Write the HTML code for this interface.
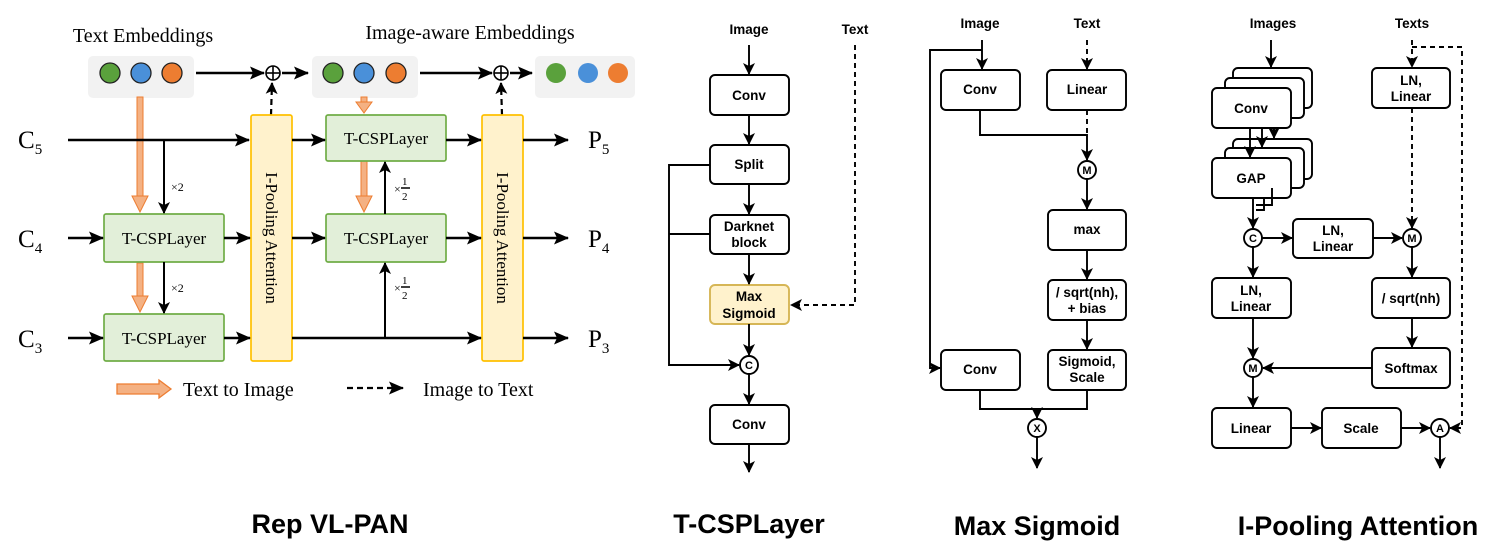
<!DOCTYPE html>
<html><head><meta charset="utf-8"><style>
html,body{margin:0;padding:0;background:#fff;}
svg{display:block;}
.s{font-family:"Liberation Serif",serif;}
.b{font-family:"Liberation Sans",sans-serif;font-weight:bold;font-size:13.5px;}
.t{font-family:"Liberation Sans",sans-serif;font-weight:bold;font-size:27px;}
</style></head><body>
<svg width="1486" height="552" viewBox="0 0 1486 552" xmlns="http://www.w3.org/2000/svg">
<defs>
<marker id="a" markerWidth="12" markerHeight="12" refX="11" refY="6" orient="auto" markerUnits="userSpaceOnUse"><path d="M0,0 L12,6 L0,12 L3,6 z" fill="#000"/></marker>
<marker id="a2" markerWidth="15" markerHeight="13" refX="14" refY="6.5" orient="auto" markerUnits="userSpaceOnUse"><path d="M0,0 L15,6.5 L0,13 L3,6.5 z" fill="#000"/></marker>
</defs>

<!-- ============ Rep VL-PAN ============ -->
<g class="s">
<text x="143" y="42" font-size="20" text-anchor="middle">Text Embeddings</text>
<text x="470" y="39" font-size="20" text-anchor="middle">Image-aware Embeddings</text>
<rect x="88" y="56" width="106" height="42" rx="5" fill="#f2f2f2"/>
<rect x="312" y="56" width="106" height="42" rx="5" fill="#f2f2f2"/>
<rect x="535" y="56" width="100" height="42" rx="5" fill="#f2f2f2"/>
<g stroke="#222" stroke-width="1.3">
<circle cx="110" cy="73" r="10" fill="#5aa13c"/><circle cx="141" cy="73" r="10" fill="#4a90d9"/><circle cx="172" cy="73" r="10" fill="#ed7d31"/>
<circle cx="333" cy="73" r="10" fill="#5aa13c"/><circle cx="364" cy="73" r="10" fill="#4a90d9"/><circle cx="396" cy="73" r="10" fill="#ed7d31"/>
</g>
<circle cx="556" cy="73" r="10" fill="#5aa13c"/><circle cx="588" cy="73" r="10" fill="#4a90d9"/><circle cx="618" cy="73" r="10" fill="#ed7d31"/>
<g stroke="#000" stroke-width="2.4" fill="none">
<line x1="196" y1="73" x2="264" y2="73" marker-end="url(#a2)"/>
<line x1="282" y1="73" x2="308" y2="73" marker-end="url(#a2)"/>
<line x1="420" y1="73" x2="492" y2="73" marker-end="url(#a2)"/>
<line x1="510" y1="73" x2="532" y2="73" marker-end="url(#a2)"/>
</g>
<g stroke="#000" stroke-width="1.6" fill="#fff">
<circle cx="273" cy="73" r="7"/><line x1="266" y1="73" x2="280" y2="73"/><line x1="273" y1="66" x2="273" y2="80"/>
<circle cx="501" cy="73" r="7"/><line x1="494" y1="73" x2="508" y2="73"/><line x1="501" y1="66" x2="501" y2="80"/>
</g>
<g stroke="#000" stroke-width="2.2" stroke-dasharray="6,4">
<line x1="271" y1="115" x2="272" y2="83" marker-end="url(#a)"/>
<line x1="502" y1="115" x2="501" y2="83" marker-end="url(#a)"/>
</g>
<g stroke="#ed7d31" fill="#f4b183" stroke-width="1">
<rect x="137" y="97" width="6" height="100"/>
<path d="M132,196 L148,196 L140,212 z"/>
<rect x="137" y="263" width="6" height="34"/>
<path d="M132,296 L148,296 L140,312 z"/>
<rect x="361" y="97" width="6" height="6"/>
<path d="M356,102 L372,102 L364,113 z"/>
<rect x="361" y="161" width="6" height="36"/>
<path d="M356,196 L372,196 L364,212 z"/>
</g>
<g fill="#e2efd9" stroke="#70ad47" stroke-width="1.7">
<rect x="104" y="214" width="120" height="48" rx="2"/>
<rect x="104" y="314" width="120" height="47" rx="2"/>
<rect x="326" y="115" width="120" height="46" rx="2"/>
<rect x="326" y="214" width="120" height="48" rx="2"/>
</g>
<g fill="#fff2cc" stroke="#ffc000" stroke-width="1.7">
<rect x="251" y="115" width="41" height="246" rx="2"/>
<rect x="482" y="115" width="41" height="246" rx="2"/>
</g>
<g font-size="17" text-anchor="middle">
<text x="164" y="244">T-CSPLayer</text>
<text x="164" y="344">T-CSPLayer</text>
<text x="386" y="144">T-CSPLayer</text>
<text x="386" y="244">T-CSPLayer</text>
<text transform="translate(266,238) rotate(90)" font-size="17">I-Pooling Attention</text>
<text transform="translate(497,238) rotate(90)" font-size="17">I-Pooling Attention</text>
</g>
<g font-size="25">
<text x="18" y="148">C<tspan font-size="15" dy="6">5</tspan></text>
<text x="18" y="247">C<tspan font-size="15" dy="6">4</tspan></text>
<text x="18" y="347">C<tspan font-size="15" dy="6">3</tspan></text>
<text x="588" y="148">P<tspan font-size="15" dy="6">5</tspan></text>
<text x="588" y="247">P<tspan font-size="15" dy="6">4</tspan></text>
<text x="588" y="347">P<tspan font-size="15" dy="6">3</tspan></text>
</g>
<g stroke="#000" stroke-width="2.4" fill="none">
<line x1="68" y1="140" x2="249" y2="140" marker-end="url(#a2)"/>
<line x1="164" y1="140" x2="164" y2="213" stroke-width="2" marker-end="url(#a)"/>
<line x1="164" y1="262" x2="164" y2="313" stroke-width="2" marker-end="url(#a)"/>
<line x1="68" y1="238" x2="103" y2="238" marker-end="url(#a2)"/>
<line x1="68" y1="338" x2="103" y2="338" marker-end="url(#a2)"/>
<line x1="224" y1="238" x2="250" y2="238" marker-end="url(#a2)"/>
<line x1="224" y1="338" x2="250" y2="338" marker-end="url(#a2)"/>
<line x1="292" y1="140" x2="325" y2="140" marker-end="url(#a2)"/>
<line x1="292" y1="238" x2="325" y2="238" marker-end="url(#a2)"/>
<line x1="292" y1="338" x2="481" y2="338" marker-end="url(#a2)"/>
<line x1="446" y1="140" x2="481" y2="140" marker-end="url(#a2)"/>
<line x1="446" y1="238" x2="481" y2="238" marker-end="url(#a2)"/>
<line x1="385" y1="214" x2="385" y2="162" stroke-width="2" marker-end="url(#a)"/>
<line x1="385" y1="338" x2="385" y2="263" stroke-width="2" marker-end="url(#a)"/>
<line x1="523" y1="140" x2="568" y2="140" marker-end="url(#a2)"/>
<line x1="523" y1="238" x2="568" y2="238" marker-end="url(#a2)"/>
<line x1="523" y1="338" x2="568" y2="338" marker-end="url(#a2)"/>
</g>
<g font-size="12">
<text x="171" y="191">×2</text><text x="171" y="292">×2</text>
<text x="394" y="193">×</text><text x="402" y="185" font-size="11">1</text><line x1="401" y1="188" x2="410" y2="188" stroke="#000" stroke-width="1.5"/><text x="402" y="200" font-size="11">2</text>
<text x="394" y="292">×</text><text x="402" y="284" font-size="11">1</text><line x1="401" y1="287" x2="410" y2="287" stroke="#000" stroke-width="1.5"/><text x="402" y="299" font-size="11">2</text>
</g>
<path d="M117,384 L159,384 L159,380 L171,389 L159,398 L159,394 L117,394 z" fill="#f4b183" stroke="#ed7d31" stroke-width="1.3"/>
<text x="183" y="396" font-size="20">Text to Image</text>
<line x1="347" y1="388" x2="403" y2="388" stroke="#000" stroke-width="2.2" stroke-dasharray="6,4" marker-end="url(#a2)"/>
<text x="423" y="396" font-size="20">Image to Text</text>
</g>
<text class="t" x="330" y="533" text-anchor="middle">Rep VL-PAN</text>

<!-- ============ T-CSPLayer ============ -->
<g class="b" text-anchor="middle">
<text x="749" y="34">Image</text><text x="855" y="34">Text</text>
<g fill="#fff" stroke="#000" stroke-width="1.9">
<rect x="710" y="75" width="79" height="40" rx="5"/>
<rect x="710" y="145" width="79" height="39" rx="5"/>
<rect x="710" y="215" width="79" height="39" rx="5"/>
<rect x="710" y="285" width="79" height="39" rx="5" fill="#fff2cc" stroke="#d6b656"/>
<rect x="710" y="405" width="79" height="39" rx="5"/>
<circle cx="749" cy="365" r="9"/>
</g>
<text x="749" y="100">Conv</text>
<text x="749" y="169">Split</text>
<text x="749" y="231">Darknet</text><text x="749" y="247">block</text>
<text x="749" y="301">Max</text><text x="749" y="318">Sigmoid</text>
<text x="749" y="369" font-size="11">C</text>
<text x="749" y="429">Conv</text>
</g>
<g stroke="#000" stroke-width="1.9" fill="none">
<line x1="749" y1="45" x2="749" y2="74" marker-end="url(#a)"/>
<line x1="749" y1="115" x2="749" y2="144" marker-end="url(#a)"/>
<line x1="749" y1="184" x2="749" y2="214" marker-end="url(#a)"/>
<line x1="749" y1="254" x2="749" y2="284" marker-end="url(#a)"/>
<line x1="749" y1="324" x2="749" y2="355" marker-end="url(#a)"/>
<line x1="749" y1="374" x2="749" y2="404" marker-end="url(#a)"/>
<line x1="749" y1="444" x2="749" y2="472" marker-end="url(#a)"/>
<polyline points="710,165 669,165 669,365 739,365" marker-end="url(#a)"/>
<line x1="710" y1="234" x2="669" y2="234"/>
<polyline points="855,45 855,305 791,305" stroke-dasharray="5,4" marker-end="url(#a)"/>
</g>
<text class="t" x="749" y="533" text-anchor="middle">T-CSPLayer</text>

<!-- ============ Max Sigmoid ============ -->
<g class="b" text-anchor="middle">
<text x="980" y="28">Image</text><text x="1087" y="28">Text</text>
<g fill="#fff" stroke="#000" stroke-width="1.9">
<rect x="941" y="70" width="79" height="40" rx="5"/>
<rect x="1047" y="70" width="79" height="40" rx="5"/>
<rect x="1048" y="210" width="78" height="40" rx="5"/>
<rect x="1048" y="280" width="78" height="40" rx="5"/>
<rect x="1048" y="350" width="78" height="40" rx="5"/>
<rect x="941" y="350" width="79" height="40" rx="5"/>
<circle cx="1087" cy="170" r="9"/>
<circle cx="1037" cy="428" r="9"/>
</g>
<text x="980" y="94">Conv</text><text x="1087" y="94">Linear</text>
<text x="1087" y="234">max</text>
<text x="1087" y="297">/ sqrt(nh),</text><text x="1087" y="313">+ bias</text>
<text x="1087" y="366">Sigmoid,</text><text x="1087" y="382">Scale</text>
<text x="980" y="374">Conv</text>
<text x="1087" y="174" font-size="11">M</text>
<text x="1037" y="432" font-size="11">X</text>
</g>
<g stroke="#000" stroke-width="1.9" fill="none">
<line x1="982" y1="40" x2="982" y2="69" marker-end="url(#a)"/>
<polyline points="982,50 930,50 930,368 940,368" marker-end="url(#a)"/>
<polyline points="980,110 980,135 1087,135 1087,160" marker-end="url(#a)"/>
<line x1="1087" y1="40" x2="1087" y2="69" stroke-dasharray="5,4" marker-end="url(#a)"/>
<line x1="1087" y1="110" x2="1087" y2="135" stroke-dasharray="5,4"/>
<line x1="1087" y1="179" x2="1087" y2="209" marker-end="url(#a)"/>
<line x1="1087" y1="250" x2="1087" y2="279" marker-end="url(#a)"/>
<line x1="1087" y1="320" x2="1087" y2="349" marker-end="url(#a)"/>
<polyline points="980,390 980,409 1087,409 1087,390"/>
<line x1="1037" y1="409" x2="1037" y2="418" marker-end="url(#a)"/>
<line x1="1037" y1="437" x2="1037" y2="468" marker-end="url(#a)"/>
</g>
<text class="t" x="1037" y="535" text-anchor="middle">Max Sigmoid</text>

<!-- ============ I-Pooling Attention ============ -->
<g class="b" text-anchor="middle">
<text x="1273" y="28">Images</text><text x="1412" y="28">Texts</text>
<g fill="#fff" stroke="#000" stroke-width="1.9">
<rect x="1233" y="68" width="79" height="40" rx="5"/>
<rect x="1225" y="78" width="79" height="40" rx="5"/>
<rect x="1212" y="88" width="79" height="40" rx="5"/>
<rect x="1233" y="139" width="79" height="40" rx="5"/>
<rect x="1225" y="148" width="79" height="40" rx="5"/>
<rect x="1212" y="158" width="79" height="40" rx="5"/>
<rect x="1372" y="68" width="78" height="40" rx="5"/>
<rect x="1293" y="219" width="80" height="39" rx="5"/>
<rect x="1212" y="278" width="79" height="40" rx="5"/>
<rect x="1372" y="278" width="78" height="40" rx="5"/>
<rect x="1372" y="348" width="78" height="40" rx="5"/>
<rect x="1212" y="408" width="79" height="40" rx="5"/>
<rect x="1322" y="408" width="79" height="40" rx="5"/>
<circle cx="1253" cy="238" r="9"/>
<circle cx="1412" cy="238" r="9"/>
<circle cx="1253" cy="368" r="9"/>
<circle cx="1440" cy="428" r="9"/>
</g>
<text x="1251" y="113">Conv</text>
<text x="1251" y="183">GAP</text>
<text x="1411" y="85">LN,</text><text x="1411" y="101">Linear</text>
<text x="1333" y="235">LN,</text><text x="1333" y="251">Linear</text>
<text x="1251" y="295">LN,</text><text x="1251" y="311">Linear</text>
<text x="1411" y="303">/ sqrt(nh)</text>
<text x="1411" y="373">Softmax</text>
<text x="1251" y="433">Linear</text>
<text x="1361" y="433">Scale</text>
<text x="1253" y="242" font-size="11">C</text>
<text x="1412" y="242" font-size="11">M</text>
<text x="1253" y="372" font-size="11">M</text>
<text x="1440" y="432" font-size="11">A</text>
</g>
<g stroke="#000" stroke-width="1.9" fill="none">
<line x1="1271" y1="40" x2="1271" y2="67" marker-end="url(#a)"/>
<line x1="1250" y1="128" x2="1250" y2="157" marker-end="url(#a)"/>
<line x1="1262" y1="128" x2="1262" y2="147" marker-end="url(#a)"/>
<line x1="1274" y1="128" x2="1274" y2="138" marker-end="url(#a)"/>
<polyline points="1253,198 1253,228" marker-end="url(#a)"/>
<polyline points="1272,188 1272,205 1256,205"/>
<polyline points="1264,198 1264,210 1256,210"/>
<line x1="1262" y1="238" x2="1292" y2="238" marker-end="url(#a)"/>
<line x1="1373" y1="238" x2="1402" y2="238" marker-end="url(#a)"/>
<line x1="1253" y1="247" x2="1253" y2="277" marker-end="url(#a)"/>
<line x1="1253" y1="318" x2="1253" y2="358" marker-end="url(#a)"/>
<line x1="1412" y1="247" x2="1412" y2="277" marker-end="url(#a)"/>
<line x1="1412" y1="318" x2="1412" y2="347" marker-end="url(#a)"/>
<line x1="1372" y1="368" x2="1263" y2="368" marker-end="url(#a)"/>
<line x1="1253" y1="377" x2="1253" y2="407" marker-end="url(#a)"/>
<line x1="1291" y1="428" x2="1321" y2="428" marker-end="url(#a)"/>
<line x1="1401" y1="428" x2="1430" y2="428" marker-end="url(#a)"/>
<line x1="1440" y1="437" x2="1440" y2="468" marker-end="url(#a)"/>
<line x1="1412" y1="40" x2="1412" y2="67" stroke-dasharray="5,4" marker-end="url(#a)"/>
<line x1="1412" y1="108" x2="1412" y2="228" stroke-dasharray="5,4" marker-end="url(#a)"/>
<polyline points="1412,47 1462,47 1462,428 1450,428" stroke-dasharray="5,4" marker-end="url(#a)"/>
</g>
<text class="t" x="1358" y="535" text-anchor="middle">I-Pooling Attention</text>
</svg>
</body></html>
